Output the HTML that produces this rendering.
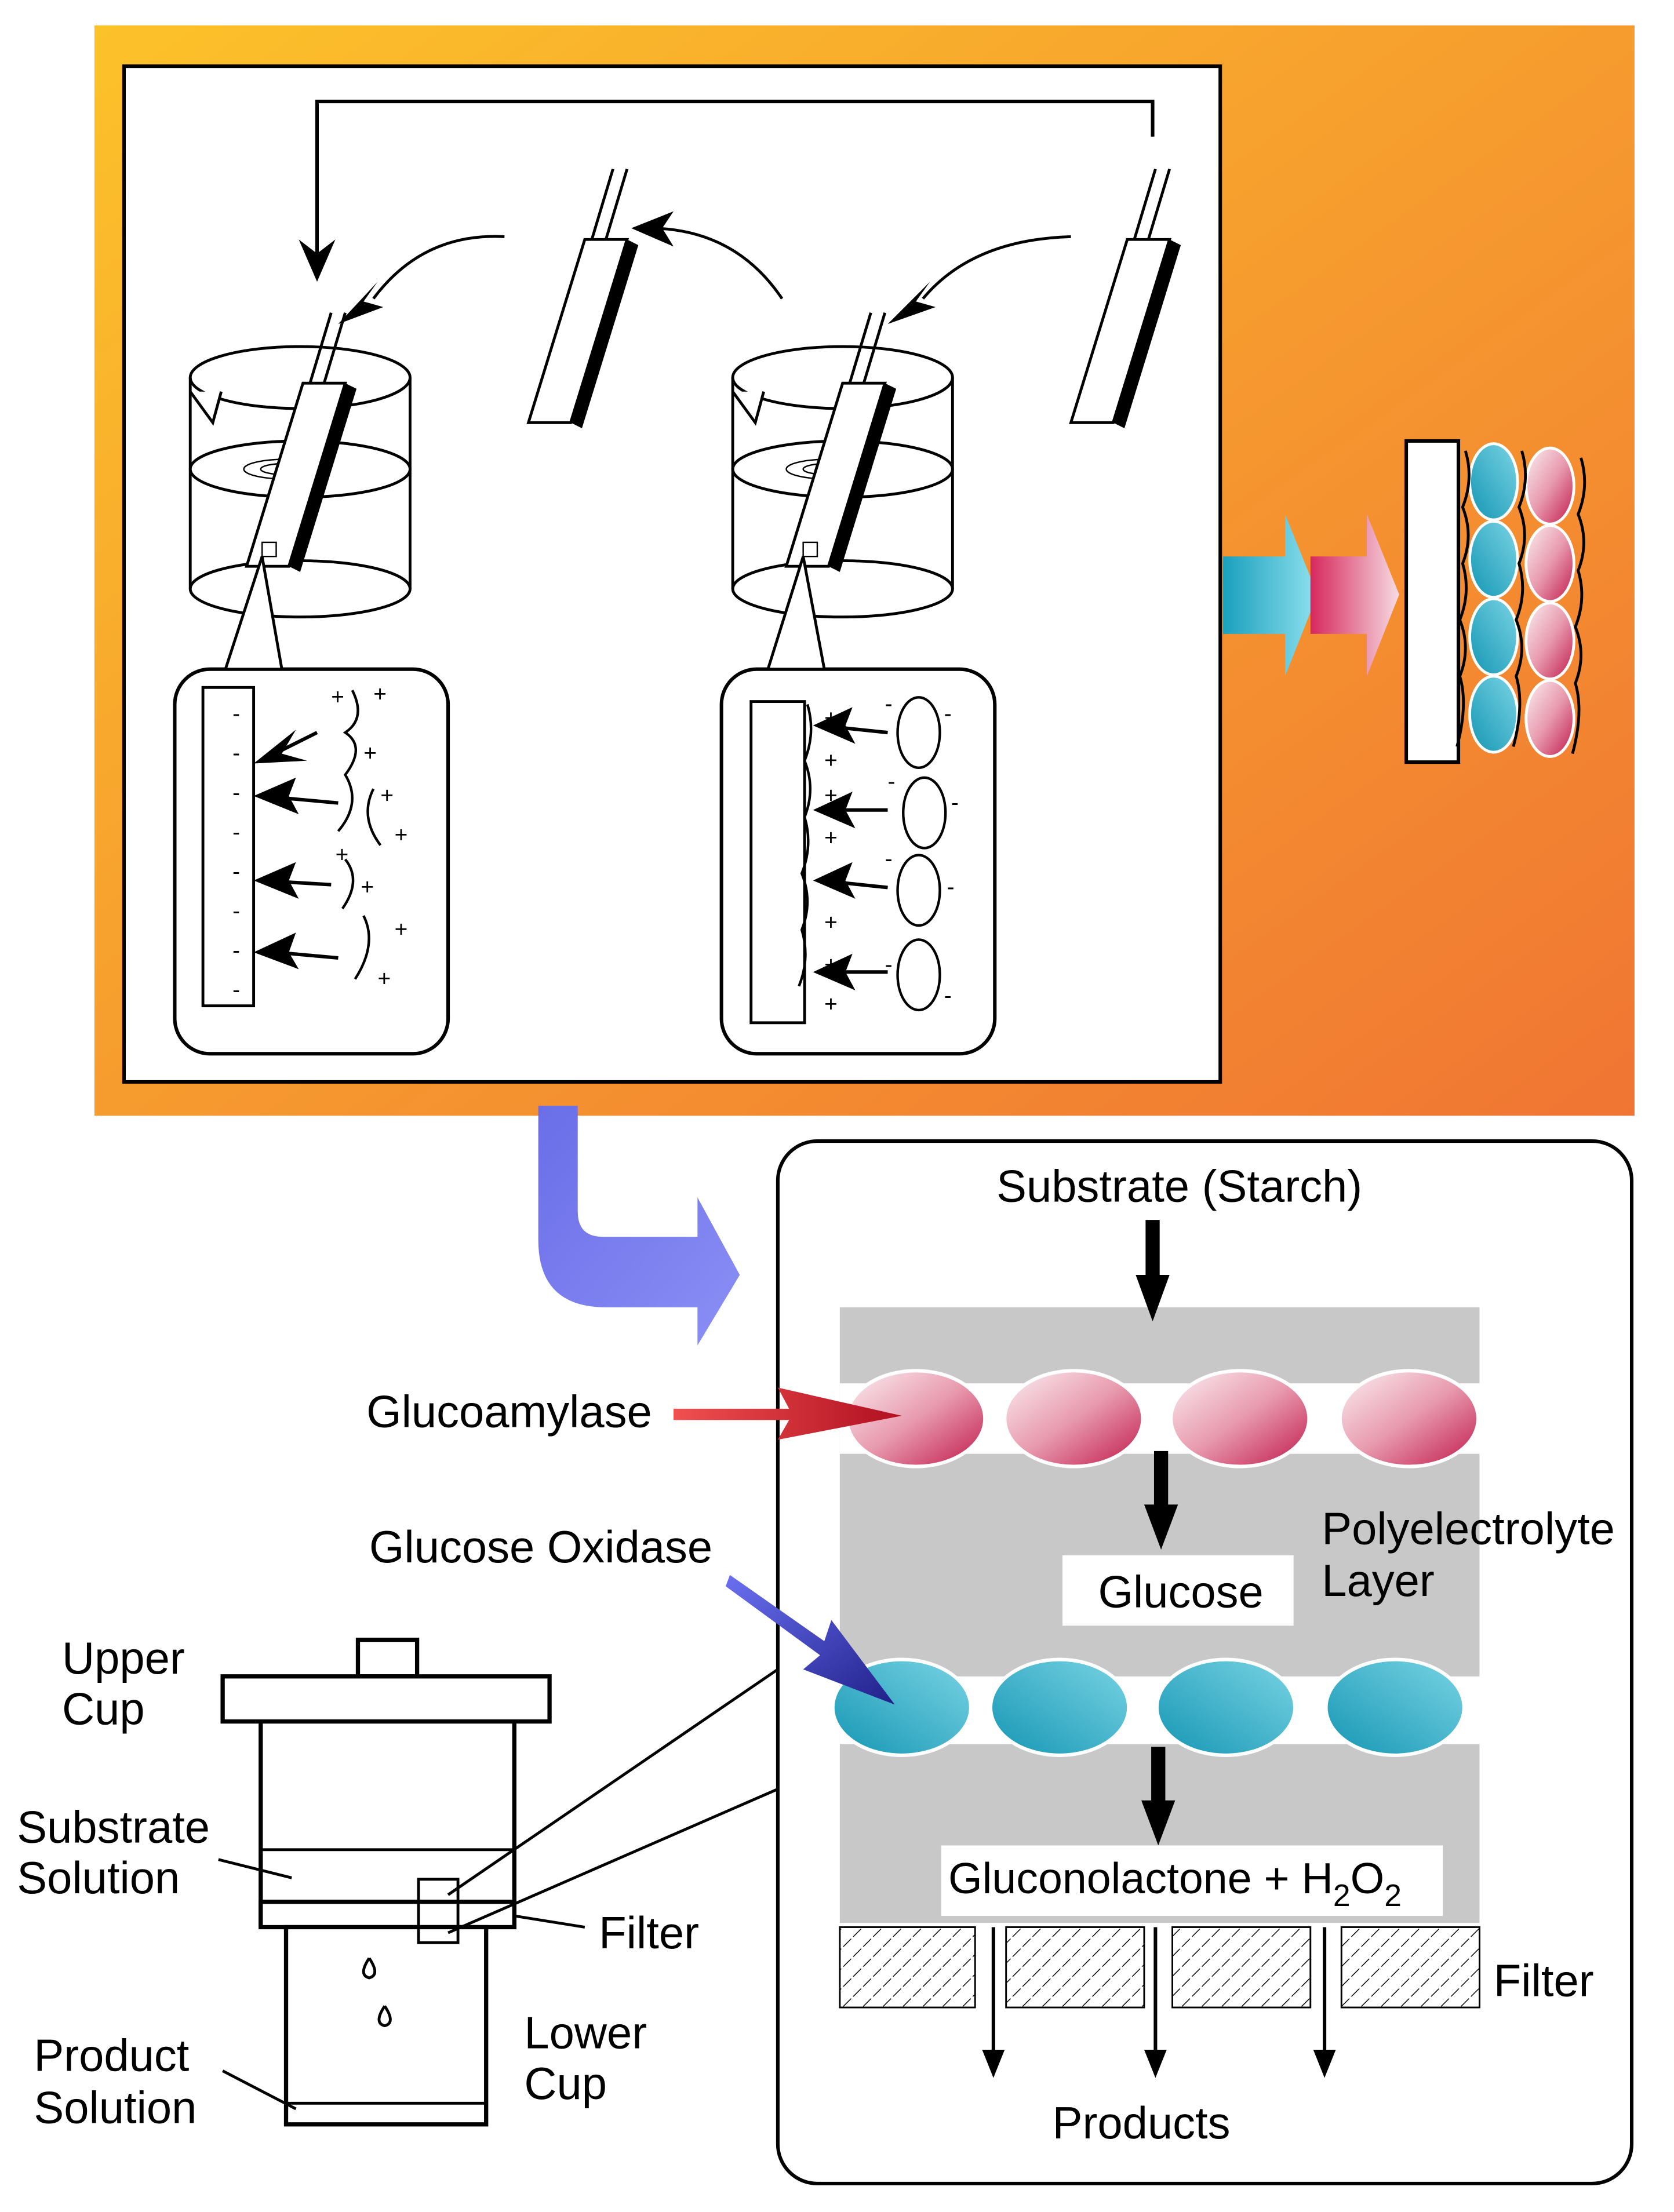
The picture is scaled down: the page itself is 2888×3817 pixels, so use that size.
<!DOCTYPE html>
<html><head><meta charset="utf-8"><style>
html,body{margin:0;padding:0;background:#fff}
svg{display:block}
text{font-family:"Liberation Sans",sans-serif}
</style></head><body>
<svg width="2888" height="3817" viewBox="0 0 1188 1570.2" xmlns="http://www.w3.org/2000/svg">
<defs>
<linearGradient id="og" x1="0" y1="0" x2="1" y2="1"><stop offset="0" stop-color="#fcc22a"/><stop offset="1" stop-color="#f07533"/></linearGradient>
<linearGradient id="pk" x1="0" y1="0" x2="1" y2="1"><stop offset="0" stop-color="#fbf0f3"/><stop offset="0.5" stop-color="#e89aae"/><stop offset="1" stop-color="#c0174a"/></linearGradient>
<linearGradient id="cy" x1="1" y1="0" x2="0" y2="1"><stop offset="0" stop-color="#7ad4e4"/><stop offset="1" stop-color="#1596b4"/></linearGradient>
<linearGradient id="cya" x1="0" y1="0" x2="1" y2="0"><stop offset="0" stop-color="#1aa0bd"/><stop offset="1" stop-color="#8fe0ee"/></linearGradient>
<linearGradient id="pka" x1="0" y1="0" x2="1" y2="0"><stop offset="0" stop-color="#d6285c"/><stop offset="1" stop-color="#f7dbe3"/></linearGradient>
<linearGradient id="bl" x1="0" y1="0" x2="1" y2="1"><stop offset="0" stop-color="#6a6ee8"/><stop offset="1" stop-color="#8b8ff5"/></linearGradient>
<linearGradient id="ra" x1="0" y1="0" x2="1" y2="0"><stop offset="0" stop-color="#f05050"/><stop offset="1" stop-color="#b01020"/></linearGradient>
<linearGradient id="ba" x1="0" y1="0" x2="1" y2="1"><stop offset="0" stop-color="#6a70f0"/><stop offset="1" stop-color="#20208a"/></linearGradient>
<pattern id="hat" width="10" height="10" patternUnits="userSpaceOnUse" patternTransform="rotate(45)"><rect width="10" height="10" fill="#fff"/><line x1="0" y1="0" x2="0" y2="10" stroke="#000" stroke-width="1.2" stroke-dasharray="4 2"/></pattern>
<g id="beaker">
 <path d="M-78 -160 L-78 -10 M78 -160 L78 -10" stroke="#000" stroke-width="2" fill="none"/>
 <ellipse cx="0" cy="-160" rx="78" ry="22" fill="none" stroke="#000" stroke-width="2"/>
 <ellipse cx="0" cy="-95" rx="78" ry="20" fill="none" stroke="#000" stroke-width="2"/>
 <ellipse cx="0" cy="-10" rx="78" ry="20" fill="none" stroke="#000" stroke-width="2"/>
 <ellipse cx="-10" cy="-95" rx="30" ry="7" fill="none" stroke="#000" stroke-width="1"/>
 <ellipse cx="-10" cy="-95" rx="18" ry="4" fill="none" stroke="#000" stroke-width="1"/>
 <path d="M-78 -150 L-62 -128 L-56 -150" fill="#fff" stroke="#000" stroke-width="2"/>
</g>
<g id="strip">
 <path d="M0 0 L30 0 L-10 130 L-40 130 Z" fill="#fff" stroke="#000" stroke-width="2"/>
 <path d="M30 0 L38 4 L-2 134 L-10 130 Z" fill="#000"/>
 <path d="M5 0 L20 -50 M15 0 L30 -50" stroke="#000" stroke-width="2"/>
</g>
</defs>

<rect x="67" y="18" width="1093" height="774" fill="url(#og)"/>
<rect x="88" y="47" width="778" height="721" fill="#fff" stroke="#000" stroke-width="2.5"/>

<path d="M818 97 L818 72 L225 72 L225 180" fill="none" stroke="#000" stroke-width="2.5"/>
<path d="M212 170 L225 200 L238 170 L225 180 Z" fill="#000"/>

<path d="M358 168 Q300 165 265 212" fill="none" stroke="#000" stroke-width="2"/>
<path d="M240 230 L268 200 L258 214 L272 218 Z" fill="#000"/>
<path d="M555 212 Q520 160 455 162" fill="none" stroke="#000" stroke-width="2"/>
<path d="M448 162 L478 150 L470 162 L478 175 Z" fill="#000"/>
<path d="M760 168 Q690 170 655 212" fill="none" stroke="#000" stroke-width="2"/>
<path d="M630 230 L660 200 L650 214 L664 218 Z" fill="#000"/>

<use href="#beaker" x="213" y="428"/>
<use href="#beaker" x="598" y="428"/>
<use href="#strip" x="215" y="272"/>
<use href="#strip" x="598" y="272"/>
<use href="#strip" x="415" y="170"/>
<use href="#strip" x="800" y="170"/>
<rect x="186" y="385" width="10" height="10" fill="#fff" stroke="#000"/>
<rect x="570" y="385" width="10" height="10" fill="#fff" stroke="#000"/>

<rect x="124" y="475" width="194" height="273" rx="25" fill="#fff" stroke="#000" stroke-width="2.5"/>
<path d="M186 395 L160 475 L200 475 Z" fill="#fff" stroke="#000" stroke-width="2"/>
<rect x="512" y="475" width="194" height="273" rx="25" fill="#fff" stroke="#000" stroke-width="2.5"/>
<path d="M570 395 L545 475 L585 475 Z" fill="#fff" stroke="#000" stroke-width="2"/>
<rect x="144" y="488" width="36" height="226" fill="#fff" stroke="#000" stroke-width="2"/>
<rect x="533" y="498" width="38" height="228" fill="#fff" stroke="#000" stroke-width="2"/>
<g stroke="#000" stroke-width="2.5" fill="#000">
<path d="M225 520 L185 540"/><path d="M240 570 L185 565"/><path d="M235 628 L185 625"/><path d="M240 680 L185 675"/>
<path d="M630 520 L582 515"/><path d="M630 575 L582 575"/><path d="M630 630 L582 625"/><path d="M630 690 L582 690"/>
</g>
<g fill="#000">
<path d="M180 542 L210 518 L200 535 L218 540 Z"/><path d="M180 565 L210 552 L205 565 L212 578 Z"/>
<path d="M180 625 L210 612 L205 625 L212 638 Z"/><path d="M180 676 L210 662 L205 676 L212 688 Z"/>
<path d="M577 515 L605 502 L600 515 L607 528 Z"/><path d="M577 575 L605 562 L600 575 L607 588 Z"/>
<path d="M577 625 L605 612 L600 625 L607 638 Z"/><path d="M577 690 L605 677 L600 690 L607 703 Z"/>
</g>
<g font-size="16" fill="#000">
<text x="165" y="512">-</text><text x="165" y="540">-</text><text x="165" y="568">-</text><text x="165" y="596">-</text><text x="165" y="624">-</text><text x="165" y="652">-</text><text x="165" y="680">-</text><text x="165" y="708">-</text>
<text x="235" y="500">+</text><text x="265" y="498">+</text><text x="258" y="540">+</text><text x="270" y="570">+</text><text x="280" y="598">+</text><text x="238" y="612">+</text><text x="256" y="635">+</text><text x="280" y="665">+</text><text x="268" y="700">+</text>
<text x="585" y="515">+</text><text x="585" y="545">+</text><text x="585" y="570">+</text><text x="585" y="600">+</text><text x="585" y="630">+</text><text x="585" y="660">+</text><text x="585" y="690">+</text><text x="585" y="718">+</text>
<text x="628" y="505">-</text><text x="670" y="512">-</text><text x="630" y="560">-</text><text x="675" y="575">-</text><text x="628" y="615">-</text><text x="672" y="635">-</text><text x="628" y="690">-</text><text x="670" y="712">-</text>
</g>
<g fill="none" stroke="#000" stroke-width="1.8">
<path d="M250 490 q10 20 -5 30 q15 10 0 30 q12 20 -5 40 M265 560 q-10 20 5 40 M245 610 q12 15 -2 35 M258 650 q10 20 -6 45"/>
<path d="M573 500 q6 20 -2 40 q8 20 0 40 q6 20 -2 40 q8 20 0 40 q6 20 -2 40"/>
<ellipse cx="652" cy="520" rx="15" ry="25"/><ellipse cx="656" cy="577" rx="15" ry="25"/><ellipse cx="652" cy="632" rx="15" ry="25"/><ellipse cx="652" cy="692" rx="15" ry="25"/>
</g>

<path d="M868 395 L912 395 L912 365 L935 422 L912 480 L912 450 L868 450 Z" fill="url(#cya)"/>
<path d="M930 395 L970 395 L970 365 L993 422 L970 480 L970 450 L930 450 Z" fill="url(#pka)"/>
<rect x="998" y="313" width="37" height="228" fill="#fff" stroke="#000" stroke-width="2.5"/>
<g stroke="#fff" stroke-width="2">
<ellipse cx="1060" cy="342" rx="17" ry="27" fill="url(#cy)"/><ellipse cx="1060" cy="397" rx="17" ry="27" fill="url(#cy)"/><ellipse cx="1060" cy="452" rx="17" ry="27" fill="url(#cy)"/><ellipse cx="1060" cy="507" rx="17" ry="27" fill="url(#cy)"/>
<ellipse cx="1100" cy="345" rx="17" ry="27" fill="url(#pk)"/><ellipse cx="1100" cy="400" rx="17" ry="27" fill="url(#pk)"/><ellipse cx="1100" cy="455" rx="17" ry="27" fill="url(#pk)"/><ellipse cx="1100" cy="510" rx="17" ry="27" fill="url(#pk)"/>
</g>
<g fill="none" stroke="#000" stroke-width="2">
<path d="M1040 320 q6 20 -2 40 q8 20 0 40 q6 20 -2 40 q8 20 0 40 q6 20 -2 50"/>
<path d="M1080 320 q6 20 -2 40 q8 20 0 40 q6 20 -2 40 q8 20 0 40 q6 20 -2 50"/>
<path d="M1122 325 q6 20 -2 40 q8 20 0 40 q6 20 -2 40 q8 20 0 40 q6 20 -2 50"/>
</g>

<path d="M382 785 L410 785 L410 860 Q410 878 428 878 L495 878 L495 850 L525 905 L495 955 L495 928 L430 928 Q382 928 382 880 Z" fill="url(#bl)"/>

<rect x="552" y="810" width="606" height="740" rx="28" fill="#fff" stroke="#000" stroke-width="2.5"/>
<text x="837" y="853" font-size="32" text-anchor="middle">Substrate (Starch)</text>
<rect x="596" y="928" width="454" height="437" fill="#c8c8c8"/>
<rect x="596" y="982" width="454" height="50" fill="#fff"/>
<rect x="596" y="1190" width="454" height="48" fill="#fff"/>
<path d="M818 866 L818 905" stroke="#000" stroke-width="10"/><path d="M806 905 L818 938 L830 905 Z" fill="#000"/>
<g stroke="#fff" stroke-width="2.5">
<ellipse cx="650" cy="1007" rx="49" ry="34" fill="url(#pk)"/><ellipse cx="762" cy="1007" rx="49" ry="34" fill="url(#pk)"/><ellipse cx="880" cy="1007" rx="49" ry="34" fill="url(#pk)"/><ellipse cx="1000" cy="1007" rx="49" ry="34" fill="url(#pk)"/>
<ellipse cx="640" cy="1212" rx="49" ry="34" fill="url(#cy)"/><ellipse cx="752" cy="1212" rx="49" ry="34" fill="url(#cy)"/><ellipse cx="870" cy="1212" rx="49" ry="34" fill="url(#cy)"/><ellipse cx="990" cy="1212" rx="49" ry="34" fill="url(#cy)"/>
</g>
<path d="M824 1030 L824 1070" stroke="#000" stroke-width="10"/><path d="M812 1068 L824 1100 L836 1068 Z" fill="#000"/>
<rect x="754" y="1104" width="164" height="50" fill="#fff"/>
<text x="838" y="1141" font-size="32" text-anchor="middle">Glucose</text>
<text x="938" y="1096" font-size="32">Polyelectrolyte</text>
<text x="938" y="1133" font-size="32">Layer</text>
<path d="M822 1240 L822 1280" stroke="#000" stroke-width="10"/><path d="M810 1278 L822 1310 L834 1278 Z" fill="#000"/>
<rect x="668" y="1310" width="356" height="50" fill="#fff"/>
<text x="673" y="1344" font-size="31">Gluconolactone + H<tspan font-size="22" dy="9">2</tspan><tspan dy="-9">O</tspan><tspan font-size="22" dy="9">2</tspan></text>
<g stroke="#000" stroke-width="1.2" fill="url(#hat)">
<rect x="596" y="1368" width="96" height="57"/><rect x="714" y="1368" width="98" height="57"/><rect x="832" y="1368" width="98" height="57"/><rect x="952" y="1368" width="98" height="57"/>
</g>
<text x="1060" y="1417" font-size="32">Filter</text>
<g stroke="#000" stroke-width="2.5">
<path d="M705 1368 L705 1460"/><path d="M820 1368 L820 1460"/><path d="M940 1368 L940 1460"/>
</g>
<g fill="#000"><path d="M697 1455 L705 1475 L713 1455 Z"/><path d="M812 1455 L820 1475 L828 1455 Z"/><path d="M932 1455 L940 1475 L948 1455 Z"/></g>
<text x="810" y="1518" font-size="32" text-anchor="middle">Products</text>

<text x="260" y="1013" font-size="32">Glucoamylase</text>
<path d="M478 1000 L560 1000 L552 985 L640 1005 L552 1022 L560 1008 L478 1008 Z" fill="url(#ra)"/>
<text x="262" y="1109" font-size="32">Glucose Oxidase</text>
<path d="M518 1118 L585 1165 L590 1150 L635 1210 L570 1185 L582 1175 L515 1126 Z" fill="url(#ba)"/>

<g stroke="#000" stroke-width="3" fill="#fff">
<rect x="254" y="1164" width="42" height="26"/>
<rect x="158" y="1190" width="232" height="32"/>
<path d="M185 1222 L185 1368 M365 1222 L365 1368" fill="none"/>
<path d="M185 1313 L365 1313" fill="none" stroke-width="2"/>
<rect x="185" y="1350" width="180" height="18"/>
<rect x="203" y="1368" width="142" height="140"/>
<path d="M203 1493 L345 1493" fill="none" stroke-width="2"/>
<rect x="297" y="1334" width="28" height="45" stroke-width="2" fill="none"/>
</g>
<g fill="none" stroke="#000" stroke-width="2">
<path d="M262 1390 q-8 12 0 14 q8 -2 0 -14"/><path d="M273 1424 q-8 12 0 14 q8 -2 0 -14"/>
<path d="M318 1345 L552 1185 M318 1372 L552 1270"/>
<path d="M155 1320 L207 1333"/><path d="M365 1360 L415 1368"/><path d="M158 1470 L210 1497"/>
</g>
<g font-size="32">
<text x="44" y="1188">Upper</text><text x="44" y="1224">Cup</text>
<text x="12" y="1308">Substrate</text><text x="12" y="1344">Solution</text>
<text x="425" y="1383">Filter</text>
<text x="372" y="1454">Lower</text><text x="372" y="1490">Cup</text>
<text x="24" y="1470">Product</text><text x="24" y="1507">Solution</text>
</g>
</svg>
</body></html>
